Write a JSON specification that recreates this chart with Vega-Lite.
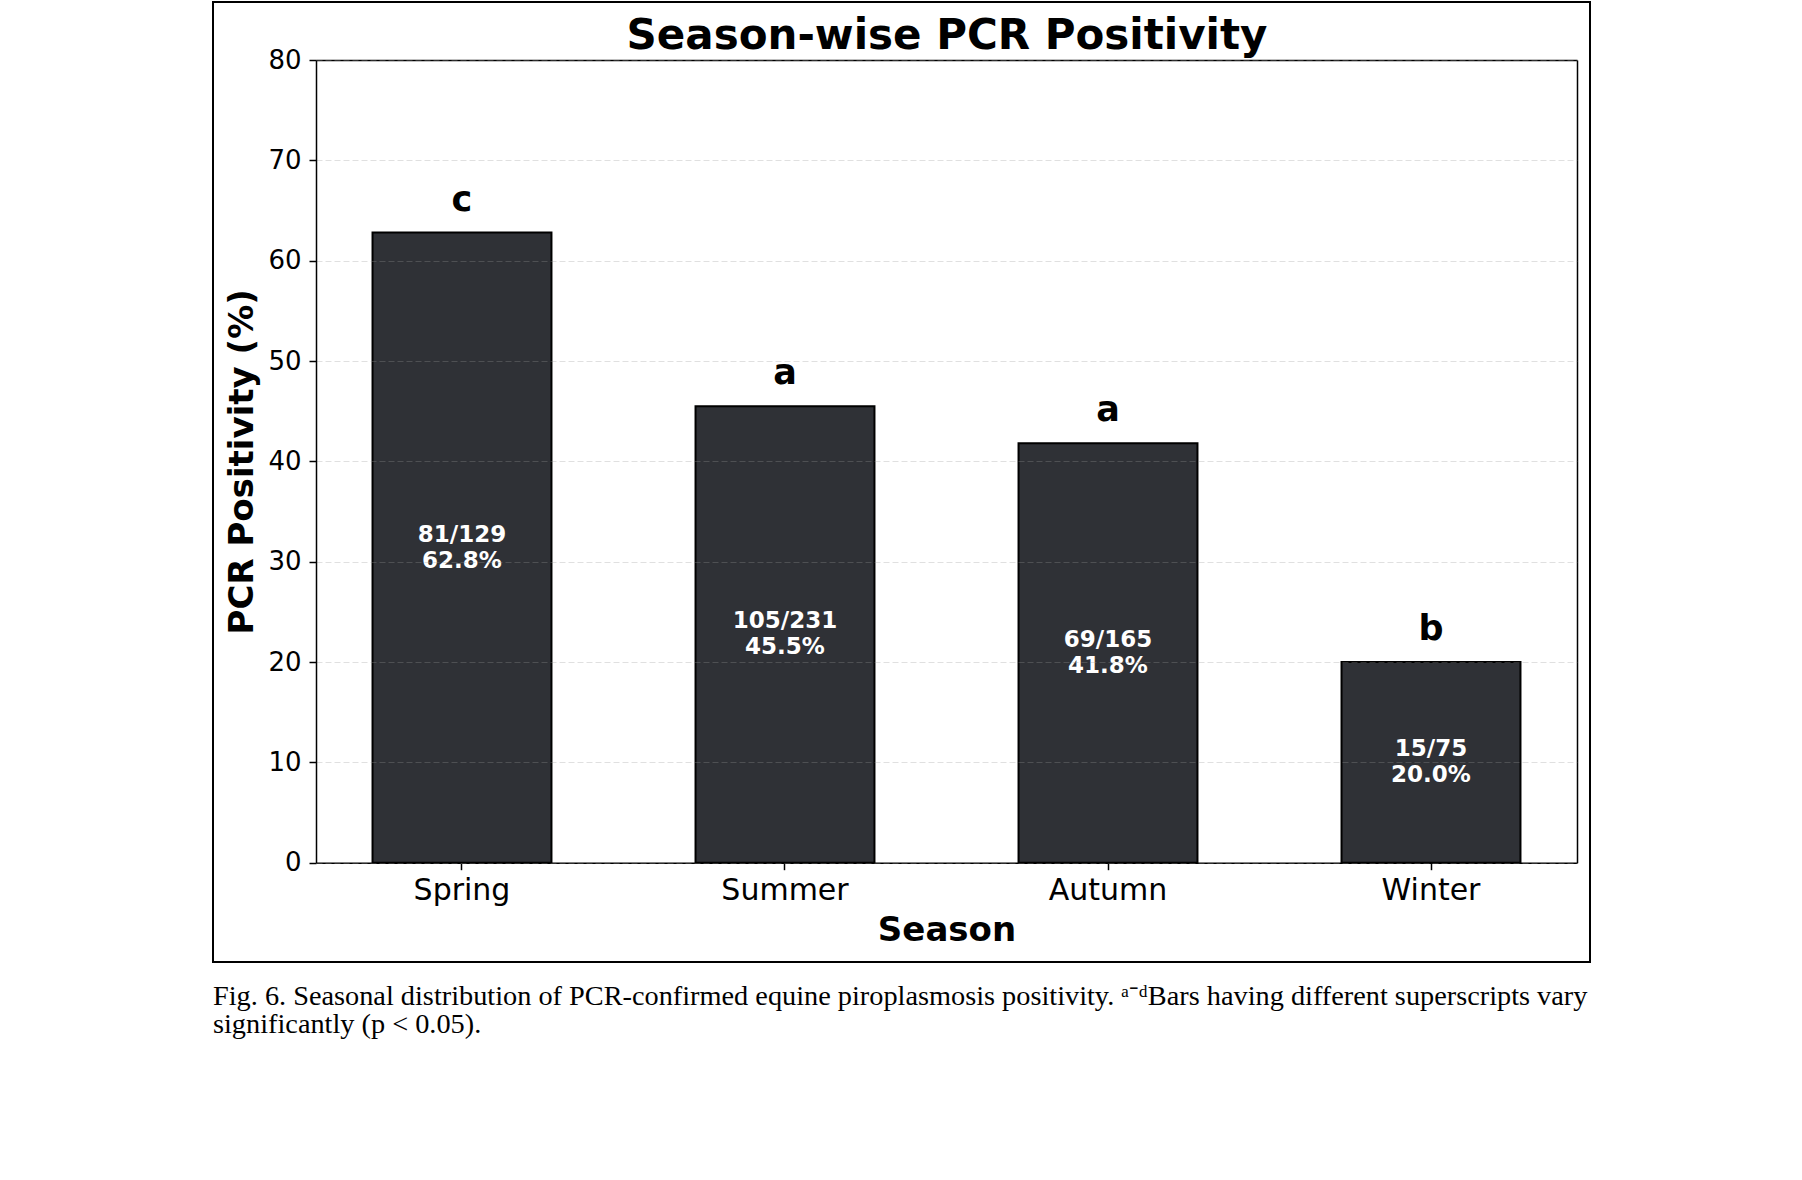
{
  "$schema": "https://vega.github.io/schema/vega-lite/v6.json",
  "width": 1377,
  "height": 960,
  "autosize": {"type": "none"},
  "padding": {"left": 213, "top": 2, "right": 212, "bottom": 218},
  "background": "white",
  "title": {
    "text": [
      "Fig. 6.  Seasonal distribution of PCR-confirmed equine piroplasmosis positivity. ᵃ⁻ᵈBars having different superscripts vary",
      "significantly (p < 0.05)."
    ],
    "orient": "bottom",
    "anchor": "start",
    "frame": "group",
    "font": "Liberation Serif",
    "fontSize": 28.3,
    "fontWeight": "normal",
    "color": "black",
    "baseline": "alphabetic",
    "lineHeight": 28,
    "offset": 43
  },
  "data": {
    "values": [
      {"season": "Spring", "value": 62.8, "label": ["81/129", "62.8%"], "letter": "c"},
      {"season": "Summer", "value": 45.5, "label": ["105/231", "45.5%"], "letter": "a"},
      {"season": "Autumn", "value": 41.8, "label": ["69/165", "41.8%"], "letter": "a"},
      {"season": "Winter", "value": 20.0, "label": ["15/75", "20.0%"], "letter": "b"}
    ]
  },
  "layer": [
    {
      "mark": {"type": "bar", "color": "#2f3136", "stroke": "black", "strokeWidth": 2},
      "encoding": {
        "x": {
          "field": "season",
          "type": "nominal",
          "sort": null,
          "scale": {"range": [103, 1364], "paddingInner": 0.446, "paddingOuter": 0.175},
          "axis": {
            "orient": "bottom",
            "offset": -99.3,
            "labelAngle": 0,
            "labelFontSize": 30,
            "labelBaseline": "alphabetic",
            "labelPadding": 30,
            "tickSize": 7,
            "title": "Season",
            "titleFontSize": 34,
            "titleFontWeight": "bold",
            "titleBaseline": "alphabetic",
            "titleY": 78
          }
        },
        "y": {
          "field": "value",
          "type": "quantitative",
          "scale": {"domain": [0, 80], "range": [860.7, 58], "nice": false},
          "axis": {
            "orient": "left",
            "offset": -103,
            "values": [0, 10, 20, 30, 40, 50, 60, 70, 80],
            "labelFontSize": 26,
            "labelPadding": 8,
            "tickSize": 7,
            "grid": true,
            "gridColor": "#999999",
            "gridOpacity": 0.3,
            "gridDash": [6, 3],
            "gridWidth": 1,
            "zindex": 1,
            "title": "PCR Positivity (%)",
            "titleFontSize": 34,
            "titleFontWeight": "bold",
            "titleBaseline": "alphabetic",
            "titleX": -64
          }
        }
      }
    },
    {
      "mark": {"type": "text", "fontSize": 35, "fontWeight": "bold", "baseline": "alphabetic", "dy": -22, "color": "black"},
      "encoding": {
        "x": {
          "field": "season",
          "type": "nominal",
          "sort": null,
          "axis": {
            "orient": "top",
            "offset": -58,
            "labels": false,
            "ticks": false,
            "grid": false,
            "title": "Season-wise PCR Positivity",
            "titleFontSize": 42,
            "titleFontWeight": "bold",
            "titleBaseline": "alphabetic",
            "titleY": -12
          }
        },
        "y": {
          "field": "value",
          "type": "quantitative",
          "scale": {"domain": [0, 80], "range": [860.7, 58], "nice": false},
          "axis": null
        },
        "text": {"field": "letter", "type": "nominal"}
      }
    },
    {
      "mark": {"type": "text", "fontSize": 23, "fontWeight": "bold", "color": "white", "baseline": "middle", "lineHeight": 26, "dy": -13},
      "encoding": {
        "x": {"field": "season", "type": "nominal", "sort": null, "axis": null},
        "y": {
          "field": "value",
          "type": "quantitative",
          "scale": {"domain": [0, 160], "range": [860.7, 58], "nice": false},
          "axis": {
            "orient": "right",
            "offset": -13,
            "labels": false,
            "ticks": false,
            "grid": false,
            "title": null
          }
        },
        "text": {"field": "label", "type": "nominal"}
      }
    }
  ],
  "resolve": {"scale": {"y": "independent"}, "axis": {"x": "independent", "y": "independent"}},
  "config": {
    "font": "DejaVu Sans",
    "view": {"stroke": "black", "strokeWidth": 2},
    "axis": {
      "labelFont": "DejaVu Sans",
      "titleFont": "DejaVu Sans",
      "labelColor": "black",
      "titleColor": "black",
      "domainColor": "black",
      "domainWidth": 1.5,
      "tickColor": "black",
      "tickWidth": 1.5
    }
  }
}
